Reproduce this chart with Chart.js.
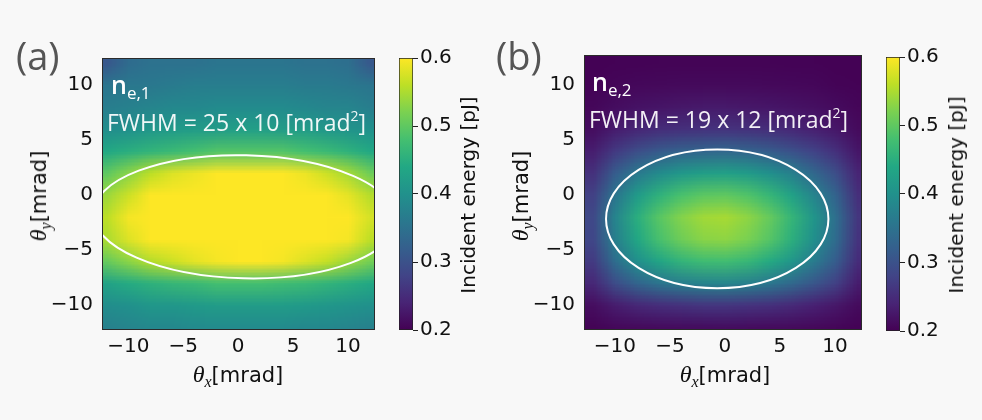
<!DOCTYPE html>
<html lang="en">
<head>
  <meta charset="UTF-8">
  <title>Incident energy maps</title>
  <script src="https://cdn.jsdelivr.net/npm/chart.js"></script>
  <style>
    body {
      margin: 0;
      background: #f8f8f8;
    }
    #wrap {
      position: relative;
      width: 982px;
      height: 420px;
      overflow: hidden;
    }
    canvas {
      position: absolute;
      top: 0;
    }
    .txt {
      position: absolute;
      white-space: nowrap;
      line-height: 1;
    }
    .tag {
      font-family: 'Open Sans', sans-serif;
      font-size: 38px;
      color: #555;
    }
    .ne {
      font-family: 'Open Sans', sans-serif;
      font-weight: 600;
      font-size: 25px;
      color: #fff;
    }
    .ne sub {
      font-size: 17px;
      font-weight: 400;
      vertical-align: -5px;
    }
    .fwhm {
      font-family: 'Open Sans', sans-serif;
      font-size: 23px;
      color: rgba(255, 255, 255, 0.93);
    }
    .fwhm sup {
      font-size: 14px;
      vertical-align: 10px;
    }
    .axt {
      font-family: 'DejaVu Sans', sans-serif;
      font-size: 21px;
      color: #111;
    }
    .axt i {
      font-family: 'Liberation Serif', serif;
      font-size: 24px;
    }
    .axt sub {
      font-family: 'Liberation Serif', serif;
      font-style: italic;
      font-size: 16px;
      vertical-align: -5px;
    }
    .cbt {
      font-family: 'DejaVu Sans', sans-serif;
      font-size: 20px;
      color: #111;
    }
  </style>
</head>
<body>
  <div id="wrap">
    <canvas id="heatA" width="390" height="420" style="left:0px"></canvas>
    <canvas id="barA" width="100" height="420" style="left:390px"></canvas>
    <canvas id="heatB" width="390" height="420" style="left:490px"></canvas>
    <canvas id="barB" width="102" height="420" style="left:880px"></canvas>

    <div class="txt tag" style="left:16px; top:36px">(a)</div>
    <div class="txt tag" style="left:496px; top:36px">(b)</div>

    <div class="txt ne" style="left:111px; top:72px">n<sub>e,1</sub></div>
    <div class="txt fwhm" style="left:107px; top:109px">FWHM = 25 x 10 [mrad<sup>2</sup>]</div>
    <div class="txt ne" style="left:592px; top:69px">n<sub>e,2</sub></div>
    <div class="txt fwhm" style="left:589px; top:106px">FWHM = 19 x 12 [mrad<sup>2</sup>]</div>

    <div class="txt axt" style="left:238px; top:376px; transform:translate(-50%,-50%)"><i>θ</i><sub>x</sub>[mrad]</div>
    <div class="txt axt" style="left:725px; top:376px; transform:translate(-50%,-50%)"><i>θ</i><sub>x</sub>[mrad]</div>
    <div class="txt axt" style="left:40px; top:196px; transform:translate(-50%,-50%) rotate(-90deg)"><i>θ</i><sub>y</sub>[mrad]</div>
    <div class="txt axt" style="left:522px; top:196px; transform:translate(-50%,-50%) rotate(-90deg)"><i>θ</i><sub>y</sub>[mrad]</div>

    <div class="txt cbt" style="left:468px; top:195px; transform:translate(-50%,-50%) rotate(-90deg)">Incident energy [pJ]</div>
    <div class="txt cbt" style="left:956px; top:195px; transform:translate(-50%,-50%) rotate(-90deg)">Incident energy [pJ]</div>
  </div>

  <script>
    // angle ticks (mrad) and colour scale ticks (pJ)
    const angleTicks = [-10, -5, 0, 5, 10];
    const energyTicks = [0.2, 0.3, 0.4, 0.5, 0.6];

    // centres of the 2 mrad pixels of the energy maps
    const gridX = [-12, -10, -8, -6, -4, -2, 0, 2, 4, 6, 8, 10, 12];
    const gridY = [12, 10, 8, 6, 4, 2, 0, -2, -4, -6, -8, -10, -12];

    // incident energy [pJ], one row per gridY value, density n_e,1
    const energyA = [
      [0.31, 0.34, 0.35, 0.35, 0.35, 0.355, 0.355, 0.355, 0.355, 0.35, 0.35, 0.345, 0.31],
      [0.355, 0.36, 0.36, 0.365, 0.37, 0.37, 0.37, 0.37, 0.37, 0.365, 0.365, 0.36, 0.355],
      [0.37, 0.375, 0.38, 0.385, 0.385, 0.39, 0.39, 0.39, 0.39, 0.385, 0.38, 0.38, 0.37],
      [0.395, 0.40, 0.41, 0.415, 0.42, 0.42, 0.425, 0.425, 0.42, 0.42, 0.41, 0.405, 0.40],
      [0.44, 0.45, 0.46, 0.47, 0.48, 0.49, 0.49, 0.49, 0.49, 0.48, 0.47, 0.455, 0.44],
      [0.50, 0.53, 0.56, 0.58, 0.59, 0.60, 0.60, 0.60, 0.60, 0.59, 0.57, 0.545, 0.51],
      [0.54, 0.57, 0.60, 0.62, 0.64, 0.65, 0.66, 0.66, 0.65, 0.635, 0.615, 0.585, 0.555],
      [0.56, 0.595, 0.625, 0.65, 0.67, 0.68, 0.69, 0.69, 0.68, 0.665, 0.64, 0.61, 0.575],
      [0.55, 0.58, 0.61, 0.63, 0.65, 0.66, 0.67, 0.67, 0.66, 0.645, 0.62, 0.595, 0.56],
      [0.505, 0.53, 0.555, 0.57, 0.585, 0.595, 0.60, 0.60, 0.595, 0.58, 0.565, 0.54, 0.515],
      [0.43, 0.445, 0.455, 0.465, 0.47, 0.48, 0.48, 0.48, 0.475, 0.47, 0.46, 0.45, 0.44],
      [0.395, 0.40, 0.41, 0.41, 0.415, 0.42, 0.42, 0.42, 0.42, 0.415, 0.41, 0.405, 0.40],
      [0.375, 0.38, 0.385, 0.385, 0.39, 0.39, 0.39, 0.39, 0.39, 0.385, 0.385, 0.38, 0.375]
    ];

    // incident energy [pJ], density n_e,2
    const energyB = [
      [0.201, 0.202, 0.202, 0.203, 0.203, 0.203, 0.203, 0.203, 0.203, 0.202, 0.202, 0.201, 0.201],
      [0.202, 0.206, 0.208, 0.209, 0.210, 0.210, 0.210, 0.210, 0.209, 0.208, 0.207, 0.204, 0.202],
      [0.207, 0.214, 0.220, 0.223, 0.226, 0.228, 0.228, 0.226, 0.224, 0.221, 0.217, 0.212, 0.206],
      [0.214, 0.231, 0.243, 0.251, 0.255, 0.258, 0.259, 0.256, 0.252, 0.245, 0.235, 0.225, 0.211],
      [0.233, 0.268, 0.295, 0.312, 0.324, 0.330, 0.332, 0.327, 0.316, 0.300, 0.279, 0.255, 0.224],
      [0.256, 0.317, 0.362, 0.391, 0.412, 0.423, 0.426, 0.417, 0.398, 0.372, 0.335, 0.295, 0.241],
      [0.276, 0.356, 0.417, 0.456, 0.484, 0.498, 0.501, 0.489, 0.465, 0.429, 0.380, 0.327, 0.254],
      [0.287, 0.380, 0.450, 0.495, 0.526, 0.543, 0.547, 0.532, 0.505, 0.463, 0.408, 0.345, 0.263],
      [0.284, 0.373, 0.439, 0.483, 0.512, 0.529, 0.532, 0.519, 0.493, 0.453, 0.399, 0.340, 0.259],
      [0.269, 0.344, 0.399, 0.435, 0.461, 0.474, 0.477, 0.466, 0.444, 0.411, 0.366, 0.317, 0.250],
      [0.245, 0.294, 0.330, 0.353, 0.369, 0.378, 0.380, 0.373, 0.358, 0.336, 0.308, 0.276, 0.232],
      [0.215, 0.232, 0.245, 0.253, 0.258, 0.262, 0.263, 0.259, 0.255, 0.247, 0.237, 0.226, 0.211],
      [0.203, 0.208, 0.210, 0.212, 0.213, 0.213, 0.214, 0.213, 0.212, 0.211, 0.209, 0.206, 0.202]
    ];

    // FWHM contours: centre x, centre y, half-width x, half-width y, tilt [deg]
    const contourA = [0.6, -2.0, 13.8, 5.6, -1.4];
    const contourB = [-0.7, -2.2, 10.1, 6.3, 0];

    const VIRIDIS = ['#440154', '#482475', '#414487', '#355f8d', '#2a788e', '#21918c',
                     '#22a884', '#44bf70', '#7ad151', '#bddf26', '#fde725'];

    function hexRgb(h) {
      return [1, 3, 5].map(i => parseInt(h.substr(i, 2), 16));
    }
    const VIR_RGB = VIRIDIS.map(hexRgb);

    function viridis(v) {
      const lo = energyTicks[0], hi = energyTicks[energyTicks.length - 1];
      let t = (v - lo) / (hi - lo);
      t = Math.max(0, Math.min(1, t)) * (VIR_RGB.length - 1);
      const i = Math.min(Math.floor(t), VIR_RGB.length - 2);
      const f = t - i;
      return VIR_RGB[i].map((c, k) => Math.round(c + (VIR_RGB[i + 1][k] - c) * f));
    }

    const minus = v => (v < 0 ? '\u2212' + Math.abs(v) : String(v));
    const tickFont = { family: 'DejaVu Sans', size: 20 };

    // paints the energy map cells, one image pixel per cell, scaled through the axes
    const heatPlugin = {
      id: 'heat',
      beforeDatasetsDraw(chart) {
        const { ctx, chartArea, scales } = chart;
        const cells = chart.data.datasets[0].data;
        const nx = gridX.length, ny = gridY.length;
        const off = document.createElement('canvas');
        off.width = nx; off.height = ny;
        const octx = off.getContext('2d');
        const img = octx.createImageData(nx, ny);
        cells.forEach(c => {
          const [r, g, b] = viridis(c.v);
          const p = (c.row * nx + c.col) * 4;
          img.data[p] = r; img.data[p + 1] = g; img.data[p + 2] = b; img.data[p + 3] = 255;
        });
        octx.putImageData(img, 0, 0);
        const half = Math.abs(gridX[1] - gridX[0]) / 2;
        const x0 = scales.x.getPixelForValue(gridX[0] - half);
        const x1 = scales.x.getPixelForValue(gridX[nx - 1] + half);
        const y0 = scales.y.getPixelForValue(gridY[0] + half);
        const y1 = scales.y.getPixelForValue(gridY[ny - 1] - half);
        ctx.save();
        ctx.beginPath();
        ctx.rect(chartArea.left, chartArea.top, chartArea.width, chartArea.height);
        ctx.clip();
        ctx.imageSmoothingEnabled = true;
        ctx.drawImage(off, x0, y0, x1 - x0, y1 - y0);
        ctx.restore();
      },
      afterDatasetsDraw(chart, args, opts) {
        const { ctx, chartArea, scales } = chart;
        const [cx, cy, rx, ry, tilt] = opts.contour;
        const px = scales.x.getPixelForValue(cx);
        const py = scales.y.getPixelForValue(cy);
        const prx = Math.abs(scales.x.getPixelForValue(cx + rx) - px);
        const pry = Math.abs(scales.y.getPixelForValue(cy + ry) - py);
        ctx.save();
        ctx.beginPath();
        ctx.rect(chartArea.left, chartArea.top, chartArea.width, chartArea.height);
        ctx.clip();
        ctx.beginPath();
        ctx.ellipse(px, py, prx, pry, -tilt * Math.PI / 180, 0, 2 * Math.PI);
        ctx.strokeStyle = '#ffffff';
        ctx.lineWidth = 2;
        ctx.stroke();
        ctx.restore();
        // axes frame
        ctx.save();
        ctx.strokeStyle = '#2b2b2b';
        ctx.lineWidth = 1;
        ctx.strokeRect(chartArea.left + 0.5, chartArea.top + 0.5, chartArea.width - 1, chartArea.height - 1);
        ctx.restore();
      }
    };

    function makeHeat(id, values, contour, xr, yr, yAxisWidth, pad) {
      const cells = [];
      gridY.forEach((y, row) => gridX.forEach((x, col) => {
        cells.push({ x, y, v: values[row][col], row, col });
      }));
      return new Chart(document.getElementById(id), {
        type: 'scatter',
        data: { datasets: [{ data: cells, pointRadius: 0 }] },
        options: {
          responsive: false,
          animation: false,
          events: [],
          layout: { padding: pad },
          plugins: { legend: { display: false }, tooltip: { enabled: false }, heat: { contour } },
          scales: {
            x: {
              type: 'linear', min: xr[0], max: xr[1],
              afterBuildTicks: s => { s.ticks = angleTicks.map(v => ({ value: v })); },
              afterFit: s => { s.height = 90; },
              ticks: { font: tickFont, color: '#111', padding: 5, maxRotation: 0, autoSkip: false, callback: minus },
              grid: { display: false, drawTicks: false },
              border: { display: false }
            },
            y: {
              type: 'linear', min: yr[0], max: yr[1],
              afterBuildTicks: s => { s.ticks = angleTicks.map(v => ({ value: v })); },
              afterFit: s => { s.width = yAxisWidth; },
              ticks: { font: tickFont, color: '#111', padding: 9, autoSkip: false, callback: minus },
              grid: { display: false, drawTicks: false },
              border: { display: false }
            }
          }
        },
        plugins: [heatPlugin]
      });
    }

    function makeBar(id, axisWidth, pad) {
      const lo = energyTicks[0], hi = energyTicks[energyTicks.length - 1];
      return new Chart(document.getElementById(id), {
        type: 'bar',
        data: {
          labels: ['E'],
          datasets: [{
            data: [[lo, hi]],
            barPercentage: 1,
            categoryPercentage: 1,
            borderColor: '#222',
            borderWidth: 1,
            borderSkipped: false,
            backgroundColor: c => {
              const ch = c.chart;
              if (!ch.chartArea) return VIRIDIS[5];
              const ys = ch.scales.y;
              const g = ch.ctx.createLinearGradient(0, ys.getPixelForValue(lo), 0, ys.getPixelForValue(hi));
              VIRIDIS.forEach((col, i) => g.addColorStop(i / (VIRIDIS.length - 1), col));
              return g;
            }
          }]
        },
        options: {
          responsive: false,
          animation: false,
          events: [],
          layout: { padding: pad },
          plugins: { legend: { display: false }, tooltip: { enabled: false } },
          scales: {
            x: { display: false },
            y: {
              position: 'right', min: lo, max: hi,
              afterBuildTicks: s => { s.ticks = energyTicks.map(v => ({ value: v })); },
              afterFit: s => { s.width = axisWidth; },
              ticks: { font: { family: 'DejaVu Sans', size: 20 }, color: '#111', padding: 2, callback: v => v.toFixed(1) },
              grid: { drawOnChartArea: false, drawTicks: true, tickLength: 5, color: '#222' },
              border: { display: false }
            }
          }
        }
      });
    }

    makeHeat('heatA', energyA, contourA, [-12.4, 12.45], [-12.3, 12.45], 102,
             { top: 58, right: 15, bottom: 0, left: 0 });
    makeHeat('heatB', energyB, contourB, [-12.8, 12.45], [-12.3, 12.7], 94,
             { top: 55, right: 18, bottom: 0, left: 0 });
    makeBar('barA', 77, { top: 58, right: 0, bottom: 90, left: 9 });
    makeBar('barB', 82, { top: 57, right: 0, bottom: 89, left: 6 });
  </script>
</body>
</html>
